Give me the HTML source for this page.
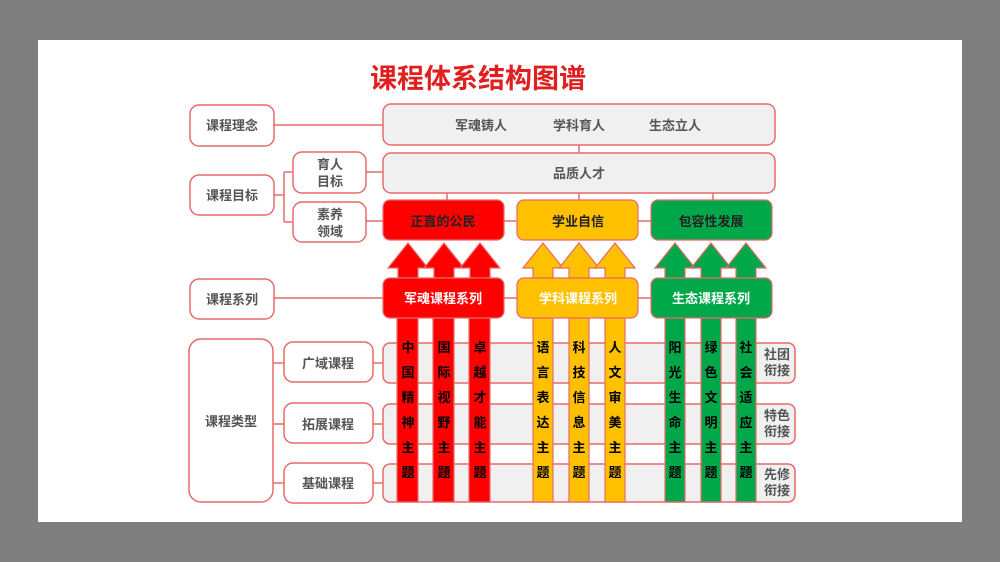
<!DOCTYPE html>
<html><head><meta charset="utf-8"><style>
html,body{margin:0;padding:0;background:#7f7f7f;}
svg{display:block;font-family:"Liberation Sans","Noto Sans CJK SC",sans-serif;font-weight:bold;}
</style></head><body>
<svg width="1000" height="562" viewBox="0 0 1000 562" xmlns="http://www.w3.org/2000/svg">
<rect x="0" y="0" width="1000" height="562" fill="#7f7f7f"/>
<rect x="38" y="40" width="924" height="482" fill="#fff"/>
<text x="478" y="88" font-size="27" fill="#e02020" text-anchor="middle">课程体系结构图谱</text>
<g stroke="#e86a6a" stroke-width="1.5" fill="none">
<!-- connectors -->
<line x1="274" y1="125" x2="383" y2="125"/>
<line x1="579" y1="145" x2="579" y2="153"/>
<line x1="447" y1="193" x2="447" y2="200"/>
<line x1="579" y1="193" x2="579" y2="200"/>
<line x1="713" y1="193" x2="713" y2="200"/>
<line x1="274" y1="195" x2="284" y2="195"/>
<line x1="284" y1="172" x2="284" y2="222"/>
<line x1="284" y1="172" x2="293" y2="172"/>
<line x1="284" y1="222" x2="293" y2="222"/>
<line x1="366" y1="172" x2="383" y2="172"/>
<line x1="366" y1="221" x2="383" y2="221"/>
<line x1="504" y1="221" x2="517" y2="221"/>
<line x1="638" y1="221" x2="651" y2="221"/>
<line x1="274" y1="298" x2="383" y2="298"/>
<line x1="504" y1="298" x2="517" y2="298"/>
<line x1="638" y1="298" x2="651" y2="298"/>
<line x1="273" y1="363" x2="284" y2="363"/>
<line x1="273" y1="424" x2="284" y2="424"/>
<line x1="273" y1="483" x2="284" y2="483"/>
<line x1="373" y1="363" x2="383" y2="363"/>
<line x1="373" y1="424" x2="383" y2="424"/>
<line x1="373" y1="483" x2="383" y2="483"/>
</g>
<g stroke="#e86a6a" stroke-width="1.5" fill="#fff">
<rect x="190" y="105" width="84" height="41" rx="9"/>
<rect x="190" y="175" width="84" height="40" rx="9"/>
<rect x="293" y="152" width="73" height="41" rx="9"/>
<rect x="293" y="202" width="73" height="40" rx="9"/>
<rect x="190" y="279" width="84" height="40" rx="9"/>
<rect x="189" y="339" width="84" height="163" rx="12"/>
<rect x="284" y="342" width="89" height="40" rx="9"/>
<rect x="284" y="403" width="89" height="40" rx="9"/>
<rect x="284" y="463" width="89" height="40" rx="9"/>
</g>
<g stroke="#e86a6a" stroke-width="1.5" fill="#f0f0f0">
<rect x="383" y="104" width="392" height="41" rx="8"/>
<rect x="383" y="153" width="392" height="40" rx="8"/>
<rect x="383" y="343" width="412" height="40" rx="7"/>
<rect x="383" y="404" width="412" height="40" rx="7"/>
<rect x="383" y="464" width="412" height="38" rx="7"/>
</g>
<g font-size="13" fill="#555" text-anchor="middle">
<text x="232" y="130">课程理念</text>
<text x="232" y="200">课程目标</text>
<text x="330" y="169">育人</text><text x="330" y="186">目标</text>
<text x="330" y="219">素养</text><text x="330" y="236">领域</text>
<text x="232" y="304">课程系列</text>
<text x="231" y="426">课程类型</text>
<text x="328" y="368">广域课程</text>
<text x="328" y="429">拓展课程</text>
<text x="328" y="488">基础课程</text>
<text x="481" y="130">军魂铸人</text>
<text x="579" y="130">学科育人</text>
<text x="675" y="130">生态立人</text>
<text x="579" y="178">品质人才</text>
<text x="777" y="359">社团</text><text x="777" y="375">衔接</text>
<text x="777" y="420">特色</text><text x="777" y="436">衔接</text>
<text x="777" y="479">先修</text><text x="777" y="495">衔接</text>
</g>
<!-- arrows -->
<g stroke="#e86a6a" stroke-width="1.2">
<g fill="#ff0000">
<polygon points="398,278 398,268 388,268 408,243 428,268 418,268 418,278"/>
<polygon points="434,278 434,268 424,268 444,243 464,268 454,268 454,278"/>
<polygon points="470,278 470,268 460,268 480,243 500,268 490,268 490,278"/>
<rect x="397" y="318" width="21" height="184"/>
<rect x="433" y="318" width="21" height="184"/>
<rect x="469" y="318" width="21" height="184"/>
<rect x="383" y="200" width="121" height="40" rx="7"/>
<rect x="383" y="278" width="121" height="40" rx="7"/>
</g>
<g fill="#ffc000">
<polygon points="533,278 533,268 523,268 543,243 563,268 553,268 553,278"/>
<polygon points="569,278 569,268 559,268 579,243 599,268 589,268 589,278"/>
<polygon points="605,278 605,268 595,268 615,243 635,268 625,268 625,278"/>
<rect x="533" y="318" width="20" height="184"/>
<rect x="569" y="318" width="20" height="184"/>
<rect x="605" y="318" width="20" height="184"/>
<rect x="517" y="200" width="121" height="40" rx="7"/>
<rect x="517" y="278" width="121" height="40" rx="7"/>
</g>
<g fill="#00a84a">
<polygon points="665,278 665,268 655,268 675,243 695,268 685,268 685,278"/>
<polygon points="701,278 701,268 691,268 711,243 731,268 721,268 721,278"/>
<polygon points="736,278 736,268 726,268 746,243 766,268 756,268 756,278"/>
<rect x="665" y="318" width="20" height="184"/>
<rect x="701" y="318" width="20" height="184"/>
<rect x="736" y="318" width="20" height="184"/>
<rect x="651" y="200" width="121" height="40" rx="7"/>
<rect x="651" y="278" width="121" height="40" rx="7"/>
</g>
</g>
<g font-size="13" text-anchor="middle">
<text x="443" y="226" fill="#222">正直的公民</text>
<text x="578" y="226" fill="#222">学业自信</text>
<text x="711" y="226" fill="#222">包容性发展</text>
<text x="443" y="303" fill="#fff">军魂课程系列</text>
<text x="578" y="303" fill="#fff">学科课程系列</text>
<text x="711" y="303" fill="#fff">生态课程系列</text>
</g>
<g font-size="13" text-anchor="middle" fill="#000">
<text x="408" y="352">中</text><text x="408" y="377">国</text><text x="408" y="402">精</text><text x="408" y="427">神</text><text x="408" y="452">主</text><text x="408" y="477">题</text>
<text x="444" y="352">国</text><text x="444" y="377">际</text><text x="444" y="402">视</text><text x="444" y="427">野</text><text x="444" y="452">主</text><text x="444" y="477">题</text>
<text x="480" y="352">卓</text><text x="480" y="377">越</text><text x="480" y="402">才</text><text x="480" y="427">能</text><text x="480" y="452">主</text><text x="480" y="477">题</text>
<text x="543" y="352">语</text><text x="543" y="377">言</text><text x="543" y="402">表</text><text x="543" y="427">达</text><text x="543" y="452">主</text><text x="543" y="477">题</text>
<text x="579" y="352">科</text><text x="579" y="377">技</text><text x="579" y="402">信</text><text x="579" y="427">息</text><text x="579" y="452">主</text><text x="579" y="477">题</text>
<text x="615" y="352">人</text><text x="615" y="377">文</text><text x="615" y="402">审</text><text x="615" y="427">美</text><text x="615" y="452">主</text><text x="615" y="477">题</text>
<text x="675" y="352">阳</text><text x="675" y="377">光</text><text x="675" y="402">生</text><text x="675" y="427">命</text><text x="675" y="452">主</text><text x="675" y="477">题</text>
<text x="711" y="352">绿</text><text x="711" y="377">色</text><text x="711" y="402">文</text><text x="711" y="427">明</text><text x="711" y="452">主</text><text x="711" y="477">题</text>
<text x="746" y="352">社</text><text x="746" y="377">会</text><text x="746" y="402">适</text><text x="746" y="427">应</text><text x="746" y="452">主</text><text x="746" y="477">题</text>
</g>
</svg>
</body></html>
